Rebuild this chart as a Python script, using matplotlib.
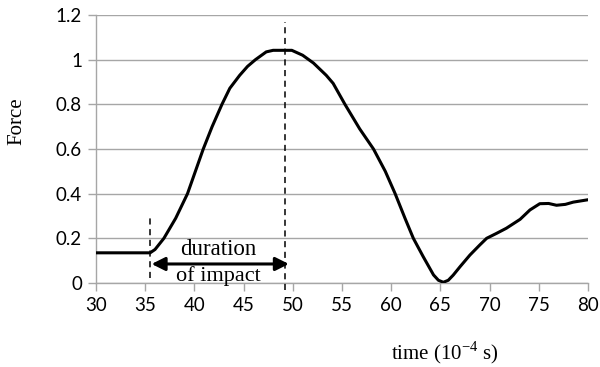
import numpy as np
import matplotlib.pyplot as plt

# --------- data ---------
t = [30, 35.5, 36.0, 36.9, 38.1, 38.7, 39.3, 40.1, 40.9, 41.8, 42.8, 43.6, 44.6,
     45.4, 46.2, 47.3, 48.0, 49.9, 51.0, 52.1, 53.4, 54.1, 55.3, 56.8, 58.2,
     59.4, 60.4, 61.4, 62.25, 63.25, 64.3, 64.8, 65.3, 65.8, 66.3, 67.0, 68.0,
     69.0, 69.7, 70.7, 71.7, 73.1, 74.1, 75.1, 76.0, 76.8, 77.7, 78.5, 79.9]
force = [0.135, 0.135, 0.15, 0.2, 0.29, 0.345, 0.4, 0.5, 0.6, 0.7, 0.8, 0.872,
         0.93, 0.97, 1.0, 1.035, 1.042, 1.042, 1.02, 0.985, 0.93, 0.894, 0.8,
         0.69, 0.6, 0.5, 0.4, 0.29, 0.2, 0.118, 0.036, 0.012, 0.003, 0.012,
         0.035, 0.073, 0.125, 0.17, 0.2, 0.222, 0.245, 0.285, 0.327, 0.355,
         0.356, 0.348, 0.352, 0.362, 0.372]
x_ticks = [30, 35, 40, 45, 50, 55, 60, 65, 70, 75, 80]
y_ticks = [0, 0.2, 0.4, 0.6, 0.8, 1, 1.2]
y_tick_labels = ["0", "0.2", "0.4", "0.6", "0.8", "1", "1.2"]
t_start, t_peak = 35.5, 49.2

SERIF = "Liberation Serif"
SANS = "Lato"
GRAY = "#a6a6a6"
plt.rcParams['mathtext.fontset'] = 'custom'
plt.rcParams['mathtext.rm'] = SERIF

fig = plt.figure(figsize=(6, 3.67), dpi=100)
ax = fig.add_axes([0.16, 0.229, 0.82, 0.73])

ax.plot(t, force, color="black", lw=2.2, zorder=3, solid_joinstyle="round")

# markers for the impact
ax.plot([t_start, t_start], [0.02, 0.3], color="black", lw=1.1, ls=(0, (4, 3)), zorder=4)
ax.plot([t_peak, t_peak], [-0.03, 1.17], color="black", lw=1.1, ls=(0, (4, 3)),
        zorder=4, clip_on=False)
ax.annotate("", xy=(35.65, 0.085), xytext=(49.6, 0.085),
            arrowprops=dict(arrowstyle="<|-|>", color="black", lw=2.2,
                            mutation_scale=20, shrinkA=0, shrinkB=0), zorder=5)
ax.text(42.4, 0.15, "duration", ha="center", va="center", fontsize=16.5, family=SERIF)
ax.text(42.4, 0.03, "of impact", ha="center", va="center", fontsize=16, family=SERIF)

ax.set_xlim(30, 80)
ax.set_ylim(0, 1.2)
ax.set_xticks(x_ticks)
ax.set_yticks(y_ticks)
ax.set_yticklabels(y_tick_labels)
ax.grid(axis="y", color=GRAY, lw=1)
ax.set_axisbelow(True)
for s in ["top", "right"]:
    ax.spines[s].set_visible(False)
for s in ["left", "bottom"]:
    ax.spines[s].set_color(GRAY)
    ax.spines[s].set_linewidth(1)
ax.tick_params(direction="out", length=6, color=GRAY, width=1, labelsize=13.5, pad=4)
for lab in ax.get_xticklabels() + ax.get_yticklabels():
    lab.set_family(SANS)

fig.text(0.028, 0.67, "Force", rotation=90, ha="center", va="center",
         fontsize=15, family=SERIF)
fig.text(0.741, 0.038, r"time (10$^{\mathrm{-4}}$ s)", ha="center", va="center",
         fontsize=15, family=SERIF)

fig.savefig("out.png", dpi=100)
